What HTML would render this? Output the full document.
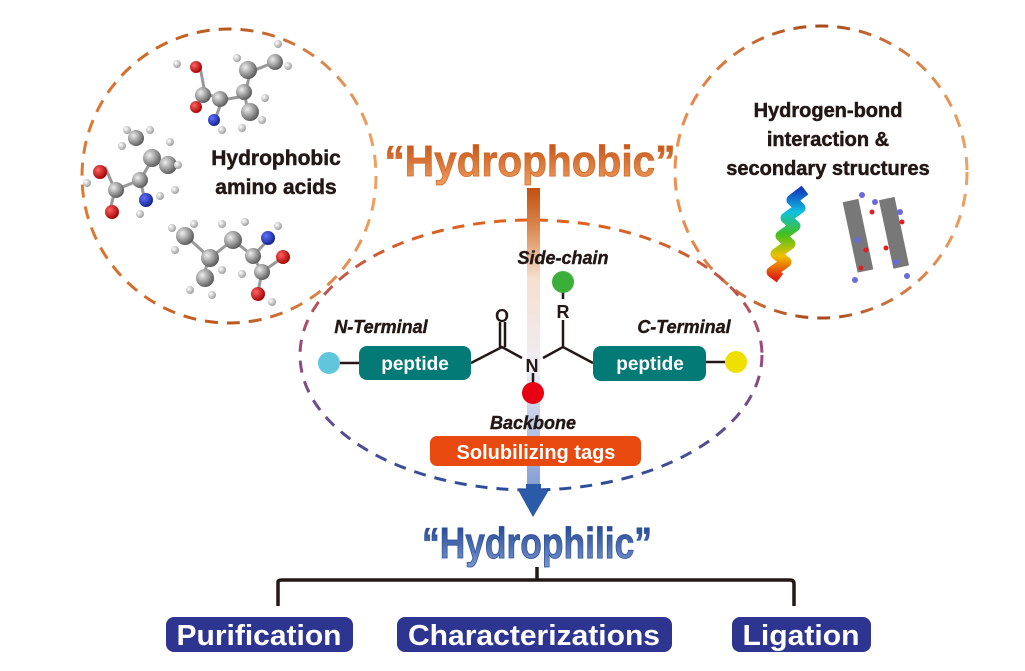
<!DOCTYPE html>
<html><head><meta charset="utf-8"><style>
html,body{margin:0;padding:0;background:#fff;}
body{width:1025px;height:666px;overflow:hidden;font-family:"Liberation Sans",Arial,sans-serif;}
</style></head><body>
<svg width="1025" height="666" viewBox="0 0 1025 666" xmlns="http://www.w3.org/2000/svg" font-family="Liberation Sans, Arial, sans-serif">
<defs>
<radialGradient id="gw" cx="35%" cy="35%" r="70%"><stop offset="0" stop-color="#fff"/><stop offset="1" stop-color="#9a9a9a"/></radialGradient>
<radialGradient id="gg" cx="35%" cy="35%" r="70%"><stop offset="0" stop-color="#eee"/><stop offset="1" stop-color="#555"/></radialGradient>
<radialGradient id="gr" cx="35%" cy="35%" r="70%"><stop offset="0" stop-color="#ff6060"/><stop offset="1" stop-color="#a00000"/></radialGradient>
<radialGradient id="gb" cx="35%" cy="35%" r="70%"><stop offset="0" stop-color="#6070ff"/><stop offset="1" stop-color="#10208a"/></radialGradient>
<linearGradient id="orangeT" x1="0" y1="0" x2="0" y2="1"><stop offset="0" stop-color="#c04a10"/><stop offset="1" stop-color="#f0a060"/></linearGradient>
<linearGradient id="blueT" x1="0" y1="0" x2="0" y2="1"><stop offset="0" stop-color="#1a3d8c"/><stop offset="1" stop-color="#7a98d0"/></linearGradient>
<linearGradient id="bar" x1="0" y1="0" x2="0" y2="1"><stop offset="0" stop-color="#c24f10"/><stop offset="0.12" stop-color="#d8844a"/><stop offset="0.3" stop-color="#f6e0d0"/><stop offset="0.6" stop-color="#eeeef6"/><stop offset="1" stop-color="#7f9ad0"/></linearGradient>
<linearGradient id="ell" x1="0" y1="0" x2="0" y2="1"><stop offset="0" stop-color="#e0631c"/><stop offset="0.5" stop-color="#9a4a80"/><stop offset="1" stop-color="#2a4e9a"/></linearGradient>
<linearGradient id="circL" x1="0" y1="0" x2="1" y2="0"><stop offset="0" stop-color="#e07a30"/><stop offset="0.5" stop-color="#b8561e"/><stop offset="1" stop-color="#f0a060"/></linearGradient>
<linearGradient id="circR" x1="0" y1="0" x2="1" y2="0"><stop offset="0" stop-color="#f09050"/><stop offset="0.5" stop-color="#a8481a"/><stop offset="1" stop-color="#f0a060"/></linearGradient>
<linearGradient id="helix" x1="0" y1="0" x2="0" y2="1"><stop offset="0" stop-color="#1040c0"/><stop offset="0.25" stop-color="#10c0e0"/><stop offset="0.5" stop-color="#40c020"/><stop offset="0.75" stop-color="#f0c000"/><stop offset="1" stop-color="#e02010"/></linearGradient>
</defs>

<circle cx="229" cy="176" r="147" fill="none" stroke="url(#circL)" stroke-width="3" stroke-dasharray="13 9"/>
<circle cx="821" cy="172" r="146" fill="none" stroke="url(#circR)" stroke-width="3" stroke-dasharray="13 9"/>
<ellipse cx="531" cy="355" rx="231" ry="135" fill="none" stroke="url(#ell)" stroke-width="3" stroke-dasharray="12 9"/>

<g stroke="#999" stroke-width="3">
<line x1="200" y1="67" x2="205" y2="93"/><line x1="205" y1="93" x2="222" y2="100"/><line x1="222" y1="100" x2="245" y2="96"/><line x1="245" y1="96" x2="250" y2="72"/><line x1="250" y1="72" x2="275" y2="62"/><line x1="222" y1="100" x2="215" y2="120"/><line x1="245" y1="96" x2="248" y2="113"/>
<line x1="105" y1="167" x2="115" y2="190"/><line x1="115" y1="190" x2="140" y2="180"/><line x1="140" y1="180" x2="152" y2="160"/><line x1="140" y1="180" x2="145" y2="200"/><line x1="152" y1="160" x2="168" y2="165"/><line x1="115" y1="190" x2="110" y2="210"/>
<line x1="185" y1="235" x2="210" y2="258"/><line x1="210" y1="258" x2="233" y2="240"/><line x1="233" y1="240" x2="253" y2="256"/><line x1="253" y1="256" x2="268" y2="240"/><line x1="253" y1="256" x2="262" y2="272"/><line x1="262" y1="272" x2="258" y2="292"/><line x1="210" y1="258" x2="203" y2="275"/><line x1="262" y1="272" x2="282" y2="258"/>
</g>
<g>
<circle cx="196" cy="67" r="6" fill="url(#gr)"/><circle cx="203" cy="95" r="8" fill="url(#gg)"/><circle cx="196" cy="107" r="6" fill="url(#gr)"/><circle cx="220" cy="99" r="8" fill="url(#gg)"/><circle cx="214" cy="120" r="6" fill="url(#gb)"/><circle cx="244" cy="92" r="8" fill="url(#gg)"/><circle cx="248" cy="70" r="9" fill="url(#gg)"/><circle cx="275" cy="62" r="8" fill="url(#gg)"/><circle cx="250" cy="112" r="9" fill="url(#gg)"/>
<circle cx="177" cy="64" r="4" fill="url(#gw)"/><circle cx="237" cy="58" r="4" fill="url(#gw)"/><circle cx="278" cy="44" r="4" fill="url(#gw)"/><circle cx="288" cy="66" r="4" fill="url(#gw)"/><circle cx="265" cy="98" r="4" fill="url(#gw)"/><circle cx="262" cy="120" r="4" fill="url(#gw)"/><circle cx="242" cy="128" r="4" fill="url(#gw)"/><circle cx="222" cy="130" r="4" fill="url(#gw)"/>
<circle cx="100" cy="172" r="7" fill="url(#gr)"/><circle cx="116" cy="190" r="8" fill="url(#gg)"/><circle cx="112" cy="212" r="7" fill="url(#gr)"/><circle cx="140" cy="180" r="8" fill="url(#gg)"/><circle cx="146" cy="200" r="7" fill="url(#gb)"/><circle cx="152" cy="158" r="9" fill="url(#gg)"/><circle cx="136" cy="138" r="8" fill="url(#gg)"/><circle cx="168" cy="165" r="9" fill="url(#gg)"/>
<circle cx="87" cy="183" r="4" fill="url(#gw)"/><circle cx="127" cy="130" r="4" fill="url(#gw)"/><circle cx="150" cy="130" r="4" fill="url(#gw)"/><circle cx="122" cy="146" r="4" fill="url(#gw)"/><circle cx="178" cy="165" r="4" fill="url(#gw)"/><circle cx="175" cy="190" r="4" fill="url(#gw)"/><circle cx="160" cy="196" r="4" fill="url(#gw)"/><circle cx="140" cy="214" r="4" fill="url(#gw)"/><circle cx="170" cy="142" r="4" fill="url(#gw)"/>
<circle cx="185" cy="236" r="9" fill="url(#gg)"/><circle cx="210" cy="258" r="9" fill="url(#gg)"/><circle cx="233" cy="240" r="9" fill="url(#gg)"/><circle cx="205" cy="278" r="9" fill="url(#gg)"/><circle cx="253" cy="256" r="8" fill="url(#gg)"/><circle cx="268" cy="238" r="7" fill="url(#gb)"/><circle cx="262" cy="272" r="8" fill="url(#gg)"/><circle cx="283" cy="257" r="7" fill="url(#gr)"/><circle cx="258" cy="294" r="7" fill="url(#gr)"/>
<circle cx="172" cy="228" r="4" fill="url(#gw)"/><circle cx="175" cy="250" r="4" fill="url(#gw)"/><circle cx="194" cy="224" r="4" fill="url(#gw)"/><circle cx="222" cy="224" r="4" fill="url(#gw)"/><circle cx="245" cy="222" r="4" fill="url(#gw)"/><circle cx="190" cy="290" r="4" fill="url(#gw)"/><circle cx="212" cy="295" r="4" fill="url(#gw)"/><circle cx="222" cy="270" r="4" fill="url(#gw)"/><circle cx="242" cy="274" r="4" fill="url(#gw)"/><circle cx="272" cy="302" r="4" fill="url(#gw)"/><circle cx="278" cy="226" r="4" fill="url(#gw)"/>
</g>
<g font-size="21" font-weight="bold" fill="#231815" stroke="#231815" stroke-width="0.5" text-anchor="middle">
<text x="276" y="165">Hydrophobic</text>
<text x="276" y="194">amino acids</text>
<text x="828" y="117" font-size="20">Hydrogen-bond</text>
<text x="828" y="146" font-size="20">interaction &amp;</text>
<text x="828" y="175" font-size="20">secondary structures</text>
</g>
<path d="M805 190 L792 200 L800 208 L786 218 L795 226 L781 236 L790 244 L776 254 L786 262 L772 272 L780 278" fill="none" stroke="url(#helix)" stroke-width="11" stroke-linejoin="round"/>
<g fill="#6a6a6a" opacity="0.9"><rect x="850" y="200" width="16" height="72" transform="rotate(-12 857 236)"/><rect x="886" y="198" width="16" height="70" transform="rotate(-12 893 233)"/></g>
<g fill="#6a6ae0"><circle cx="862" cy="195" r="3"/><circle cx="875" cy="202" r="3"/><circle cx="858" cy="240" r="3"/><circle cx="900" cy="212" r="3"/><circle cx="896" cy="262" r="3"/><circle cx="855" cy="280" r="3"/><circle cx="907" cy="276" r="3"/></g>
<g fill="#e02020"><circle cx="872" cy="212" r="2.5"/><circle cx="866" cy="250" r="2.5"/><circle cx="902" cy="222" r="2.5"/><circle cx="886" cy="248" r="2.5"/><circle cx="861" cy="268" r="2.5"/></g>

<rect x="527" y="188" width="13" height="304" fill="url(#bar)"/>
<polygon points="518,490 549,490 533,517" fill="#2a5aa8"/>
<rect x="526" y="484" width="15" height="8" fill="#2a5aa8"/>

<text x="530" y="176" font-size="44" font-weight="bold" fill="url(#orangeT)" stroke="#d06a2a" stroke-width="0.8" text-anchor="middle" textLength="291" lengthAdjust="spacingAndGlyphs">“Hydrophobic”</text>
<text x="537" y="558" font-size="44" font-weight="bold" fill="url(#blueT)" stroke="#2a4e9a" stroke-width="0.8" text-anchor="middle" textLength="230" lengthAdjust="spacingAndGlyphs">“Hydrophilic”</text>

<g stroke="#231815" stroke-width="2.5" fill="none">
<line x1="340" y1="363" x2="360" y2="363"/><line x1="706" y1="362" x2="725" y2="362"/>
<polyline points="471,363 502,347 522,358"/><polyline points="543,358 563,347 593,363"/>
<line x1="500" y1="322" x2="500" y2="347"/><line x1="505" y1="322" x2="505" y2="347"/>
<line x1="563" y1="292" x2="563" y2="299"/><line x1="563" y1="320" x2="563" y2="347"/>
<line x1="533" y1="373" x2="533" y2="383"/>
</g>
<circle cx="329" cy="363" r="11" fill="#5fc6dc"/>
<circle cx="736" cy="362" r="11" fill="#f0e000"/>
<circle cx="563" cy="282" r="11" fill="#3ab03a"/>
<circle cx="533" cy="393" r="11" fill="#e60012"/>
<rect x="359" y="346" width="112" height="34" rx="8" fill="#047a77"/>
<rect x="593" y="346" width="113" height="35" rx="8" fill="#047a77"/>
<text x="415" y="370" font-size="19" font-weight="bold" fill="#fff" text-anchor="middle">peptide</text>
<text x="650" y="370" font-size="19" font-weight="bold" fill="#fff" text-anchor="middle">peptide</text>
<text x="502" y="322" font-size="18" font-weight="bold" fill="#231815" text-anchor="middle">O</text>
<text x="563" y="318" font-size="18" font-weight="bold" fill="#231815" text-anchor="middle">R</text>
<text x="532" y="372" font-size="18" font-weight="bold" fill="#231815" text-anchor="middle">N</text>
<g font-size="18" font-weight="bold" font-style="italic" fill="#231815" stroke="#231815" stroke-width="0.4" text-anchor="middle">
<text x="563" y="264">Side-chain</text>
<text x="381" y="333">N-Terminal</text>
<text x="684" y="333">C-Terminal</text>
<text x="533" y="429">Backbone</text>
</g>
<rect x="430" y="436" width="211" height="30" rx="7" fill="#e8490f"/>
<text x="536" y="459" font-size="20" font-weight="bold" fill="#fff" text-anchor="middle">Solubilizing tags</text>

<path d="M537 567 L537 580 M278 606 L278 582 Q278 580 282 580 L790 580 Q794 580 794 584 L794 606" fill="none" stroke="#231815" stroke-width="3.5"/>
<g fill="#2e3590">
<rect x="166" y="617" width="187" height="35" rx="8"/>
<rect x="397" y="617" width="275" height="35" rx="8"/>
<rect x="732" y="617" width="139" height="35" rx="8"/>
</g>
<g font-size="29" font-weight="bold" fill="#fff" text-anchor="middle">
<text x="259" y="645" textLength="165" lengthAdjust="spacingAndGlyphs">Purification</text>
<text x="534" y="645" textLength="252" lengthAdjust="spacingAndGlyphs">Characterizations</text>
<text x="801" y="645" textLength="117" lengthAdjust="spacingAndGlyphs">Ligation</text>
</g>
</svg>
</body></html>
